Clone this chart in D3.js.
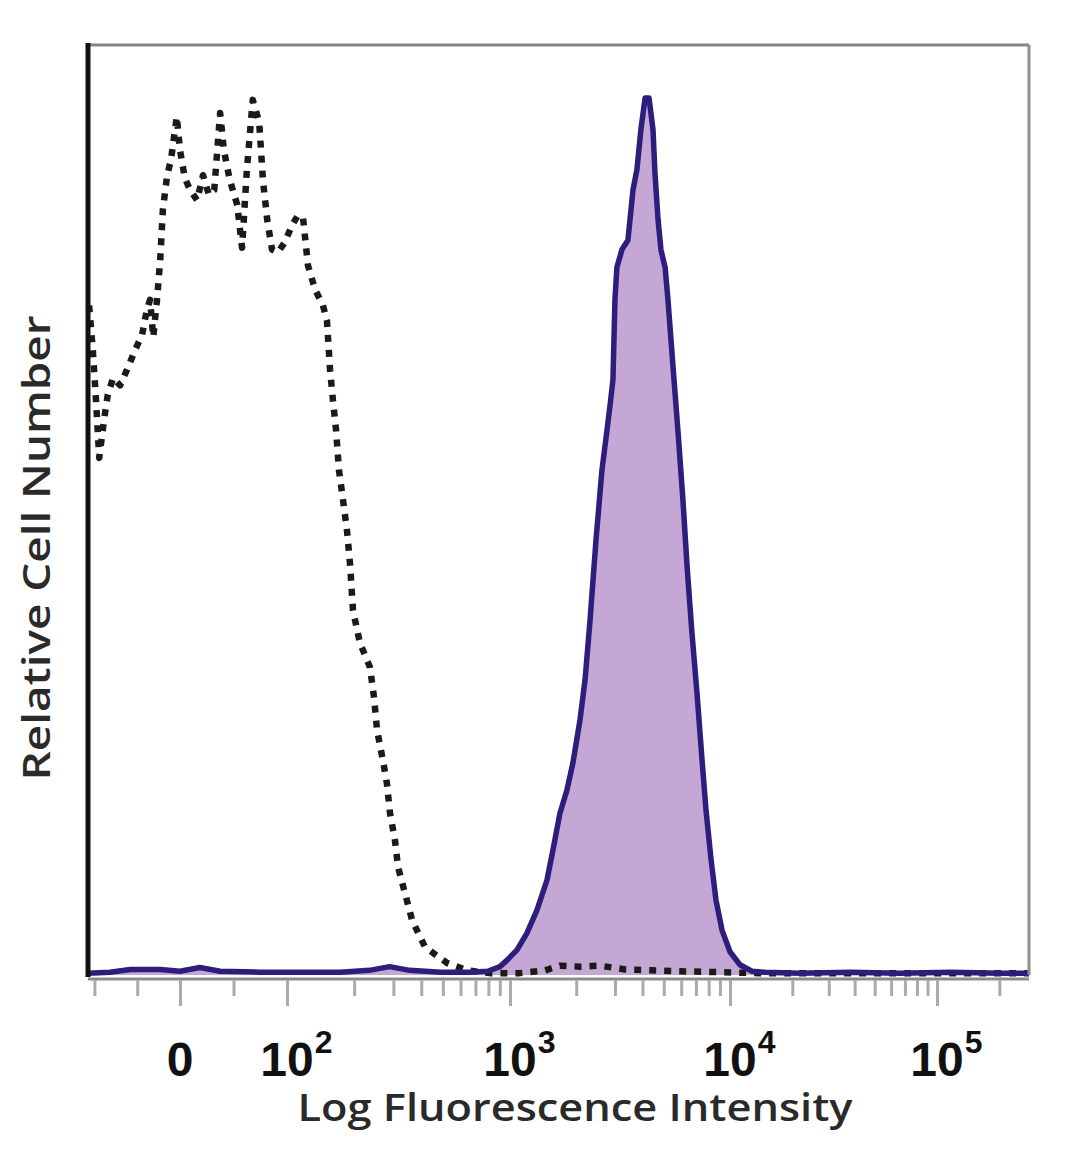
<!DOCTYPE html>
<html><head><meta charset="utf-8">
<script src="https://cdn.jsdelivr.net/npm/d3@7"></script>
<style>html,body{margin:0;padding:0;background:#fff}</style>
</head><body><svg id="c" width="1080" height="1169"></svg>
<script>
// x positions are in display (biexponential "decade") units: 0 = zero, 2 = 10^2, 3 = 10^3 ...
const stainedX = [-1.72,-1.31,-0.93,-0.37,0,0.37,0.75,1.50,2.06,2.24,2.37,2.46,2.55,2.69,2.82,2.90,2.955,2.987,3.032,3.077,3.123,3.168,3.195,3.227,3.259,3.286,3.318,3.341,3.364,3.391,3.418,3.441,3.455,3.468,3.477,3.486,3.509,3.536,3.559,3.577,3.595,3.614,3.632,3.65,3.659,3.673,3.686,3.705,3.718,3.741,3.764,3.786,3.805,3.827,3.85,3.873,3.891,3.914,3.936,3.964,4.0,4.048,4.106,4.169,4.338,4.58,4.821,5.063,5.304,5.444];
const stainedY = [0.2,0.3,0.6,0.6,0.4,0.8,0.4,0.3,0.3,0.3,0.5,0.9,0.5,0.3,0.3,0.4,0.9,1.6,2.7,4.5,7.0,10.2,13.4,17.4,19.9,22.8,27.4,31.7,38.2,46.8,54.3,58.6,61.3,64.0,72.6,76.1,78.0,79.0,84.4,86.6,90.9,94.3,94.3,90.9,86.2,81.2,78.0,76.1,72.6,65.4,58.3,51.1,43.9,36.8,30.3,23.1,17.7,12.4,8.1,4.8,2.5,1.1,0.4,0.3,0.2,0.3,0.2,0.3,0.2,0.2];
const controlX = [-1.70,-1.63,-1.57,-1.51,-1.42,-1.35,-1.25,-1.12,-0.99,-0.84,-0.71,-0.62,-0.56,-0.50,-0.43,-0.37,-0.32,-0.24,-0.17,-0.06,0.0,0.09,0.19,0.32,0.43,0.54,0.64,0.75,0.82,0.93,1.07,1.16,1.25,1.36,1.48,1.55,1.63,1.72,1.83,1.96,2.022,2.049,2.072,2.094,2.126,2.161,2.179,2.193,2.206,2.22,2.233,2.251,2.269,2.283,2.296,2.327,2.372,2.39,2.404,2.43,2.448,2.462,2.484,2.498,2.529,2.561,2.619,2.717,2.807,2.91,3.045,3.159,3.227,3.318,3.409,3.523,3.636,3.773,3.955,4.145,4.58,5.444];
const controlY = [72.0,67.2,61.8,55.6,59.7,62.4,64.2,63.4,65.1,67.2,68.8,71.5,72.6,68.6,72.6,76.9,82.3,86.0,87.6,92.3,88.7,85.7,84.4,83.3,86.0,83.9,84.4,92.7,88.7,85.5,82.8,78.2,86.6,94.1,91.7,85.5,81.2,78.0,77.7,78.8,80.6,81.7,81.4,76.3,73.7,72.0,70.4,65.1,61.8,58.6,54.3,51.1,47.8,44.1,39.2,35.7,33.1,29.9,26.3,23.1,20.6,17.4,14.5,11.6,8.8,5.9,3.0,1.3,0.5,0.2,0.2,0.5,1.0,0.9,1.0,0.6,0.5,0.4,0.3,0.2,0.2,0.2];
const majorTicks = [0, 2, 3, 4, 5];
const majorBase = ["0", "10", "10", "10", "10"];
const majorExp = ["", "2", "3", "4", "5"];
const minorTickValues = [-80, -40, 50, 200,300,400,500,600,700,800,900, 2000,3000,4000,5000,6000,7000,8000,9000, 20000,30000,40000,50000,60000,70000,80000,90000, 200000];
const xTitle = "Log Fluorescence Intensity";
const yTitle = "Relative Cell Number";

function toDisplay(v){ return v >= 100 ? Math.log10(v) : 2 * v / 100; }

const L = 88, R = 1029, T = 45, B = 975;
const x = d3.scaleLinear().domain([-1.72, 0, 2, 3, 4, 5, 5.444]).range([L, 180, 287, 510, 730, 937, R]);
const y = d3.scaleLinear().domain([0, 100]).range([B, T]);

const svg = d3.select("#c");
svg.append("rect").attr("width",1080).attr("height",1169).attr("fill","#fff");

// bottom axis line and ticks
svg.append("line").attr("x1",L).attr("x2",R).attr("y1",979).attr("y2",979).attr("stroke","#8c8c8c").attr("stroke-width",3);
const minorAxis = d3.axisBottom(x).tickValues(minorTickValues.map(toDisplay)).tickSize(16).tickFormat("");
const majorAxis = d3.axisBottom(x).tickValues(majorTicks).tickSize(26).tickFormat("");
[minorAxis, majorAxis].forEach(ax => {
  const g = svg.append("g").attr("transform", `translate(0,980)`).call(ax);
  g.select(".domain").remove();
  g.selectAll(".tick line").attr("stroke","#ababab").attr("stroke-width",3);
});

// stained histogram
const stained = d3.zip(stainedX, stainedY);
const control = d3.zip(controlX, controlY);
svg.append("path").datum(stained)
  .attr("d", d3.area().x(d=>x(d[0])).y0(y(0)).y1(d=>y(d[1])))
  .attr("fill","#c5a7d5");
svg.append("path").datum(control)
  .attr("d", d3.line().x(d=>x(d[0])).y(d=>y(d[1])))
  .attr("fill","none").attr("stroke","#1a1a1a").attr("stroke-width",6.5)
  .attr("stroke-dasharray","7,8").attr("stroke-linejoin","round");
svg.append("path").datum(stained)
  .attr("d", d3.line().x(d=>x(d[0])).y(d=>y(d[1])))
  .attr("fill","none").attr("stroke","#2d1d7c").attr("stroke-width",5.5).attr("stroke-linejoin","round");

// frame
svg.append("line").attr("x1",L).attr("x2",R).attr("y1",T).attr("y2",T).attr("stroke","#858585").attr("stroke-width",3);
svg.append("line").attr("x1",R).attr("x2",R).attr("y1",T).attr("y2",B).attr("stroke","#8e8e8e").attr("stroke-width",3);
svg.append("line").attr("x1",L).attr("x2",L).attr("y1",T-2).attr("y2",B+2).attr("stroke","#111").attr("stroke-width",5);

// tick labels
const font = "'Liberation Sans', Arial, sans-serif";
majorTicks.forEach((t,i) => {
  const tx = x(t);
  const base = svg.append("text").attr("x",tx).attr("y",1076).attr("text-anchor","middle")
    .attr("font-family",font).attr("font-weight","bold").attr("font-size",48).attr("fill","#111")
    .text(majorBase[i]);
  if (majorExp[i]) {
    const w = base.node().getComputedTextLength();
    svg.append("text").attr("x",tx + w/2 + 1).attr("y",1053).attr("text-anchor","start")
      .attr("font-family",font).attr("font-weight","bold").attr("font-size",32).attr("fill","#111")
      .text(majorExp[i]);
  }
});

// axis titles
svg.append("text").attr("x",575).attr("y",1121).attr("text-anchor","middle")
  .attr("font-family","'Open Sans', sans-serif").attr("font-weight",600).attr("font-size",37).attr("fill","#2a2a2a")
  .attr("textLength",555).attr("lengthAdjust","spacingAndGlyphs").text(xTitle);
svg.append("text").attr("transform","translate(50,548) rotate(-90)").attr("text-anchor","middle")
  .attr("font-family","'Open Sans', sans-serif").attr("font-weight",600).attr("font-size",37).attr("fill","#2a2a2a")
  .attr("textLength",465).attr("lengthAdjust","spacingAndGlyphs").text(yTitle);
</script>
</body></html>
